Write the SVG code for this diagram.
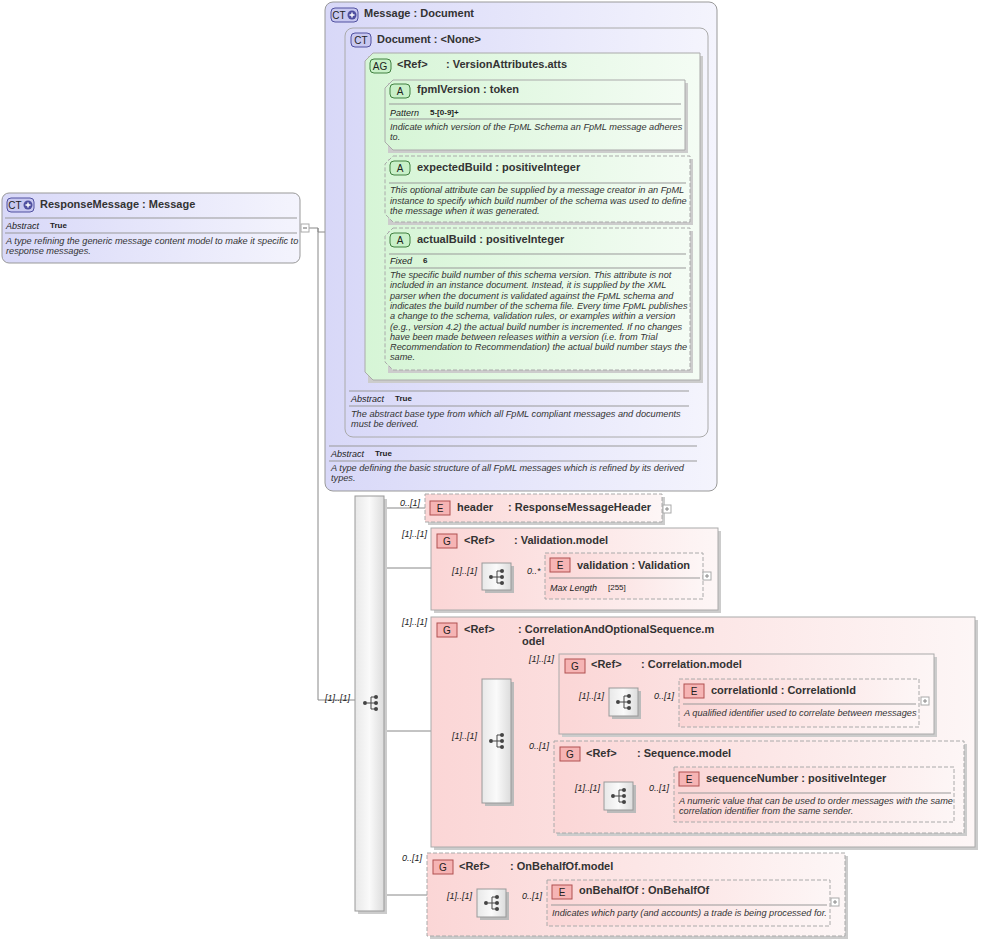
<svg xmlns="http://www.w3.org/2000/svg" width="981" height="943" viewBox="0 0 981 943">
<defs>
<linearGradient id="gb" x1="0" y1="0" x2="1" y2="0"><stop offset="0" stop-color="#d8d8f8"/><stop offset="1" stop-color="#f4f4fd"/></linearGradient>
<linearGradient id="gg" x1="0" y1="0" x2="1" y2="0"><stop offset="0" stop-color="#d6f5d6"/><stop offset="1" stop-color="#f4fcf4"/></linearGradient>
<linearGradient id="gp" x1="0" y1="0" x2="1" y2="0"><stop offset="0" stop-color="#fbd6d6"/><stop offset="1" stop-color="#fdf6f6"/></linearGradient>
<linearGradient id="gs" x1="0" y1="0" x2="1" y2="0"><stop offset="0" stop-color="#e8e8e8"/><stop offset="0.5" stop-color="#fafafa"/><stop offset="1" stop-color="#dcdcdc"/></linearGradient>
<g id="tree"><circle cx="-6" cy="0" r="2" fill="#444"/><path d="M-4 0H0M0 -6V6M0 -6H4M0 0H4M0 6H4" stroke="#444" fill="none"/><circle cx="5" cy="-6" r="2" fill="#444"/><circle cx="5" cy="0" r="2" fill="#444"/><circle cx="5" cy="6" r="2" fill="#444"/></g>
<g id="ctplus"><circle cx="0" cy="0" r="4.5" fill="#5050a0"/><path d="M-2.5 0H2.5M0 -2.5V2.5" stroke="#fff" stroke-width="1.4"/></g>
</defs>
<style>
text{font-family:"Liberation Sans",Arial,sans-serif;fill:#222}
.t{font-size:11px;font-weight:bold;fill:#333}
.d{font-size:9.2px;font-style:italic;fill:#333}
.k{font-size:9px;font-style:italic;fill:#222}
.v{font-size:8px;font-weight:bold}
.m{font-size:9px;font-style:italic}
.sep{stroke:#999;stroke-width:1}
.c{stroke:#888;fill:none}
.solid{stroke:#aaa}
.dash{stroke:#aaa;stroke-dasharray:4 2}
.bE{fill:#f6b4b4;stroke:#b05050}
.bA{fill:#c8f0c8;stroke:#408040}
.bC{fill:#c8c8f0;stroke:#5050a0}
.bt{font-size:10px;text-anchor:middle}
.pl{fill:#fff;stroke:#aaa}
</style>

<g id="connectors">
<path class="c" d="M309 228H318V232H325M318 228V700H355"/>
<path class="c" d="M376 118V300M376 117H385M376 188H385M376 300H385M355 232H365"/>
<path class="c" d="M384 508H425M384 568H431M431 576H482M511 576H545"/>
<path class="c" d="M384 731H431M431 741H482M511 694H559M559 704H609M638 704H679M511 788H554M554 796H604M633 796H674"/>
<path class="c" d="M384 895H427M427 903H477M506 903H547"/>
</g>

<g id="ResponseMessage">
<rect x="2" y="193" width="298" height="70" rx="7" fill="url(#gb)" stroke="#999"/>
<rect x="7" y="198" width="27" height="14" rx="4" class="bC"/><text x="15" y="209" class="bt">CT</text><use href="#ctplus" x="28" y="205"/>
<text x="40" y="208" class="t">ResponseMessage : Message</text>
<line x1="5" y1="218" x2="297" y2="218" class="sep"/>
<text x="6" y="229" class="k">Abstract</text><text x="50" y="228" class="v">True</text>
<line x1="5" y1="233" x2="297" y2="233" class="sep"/>
<text x="6" y="244" class="d">A type refining the generic message content model to make it specific to</text>
<text x="6" y="254" class="d">response messages.</text>
<rect x="301" y="224" width="8" height="8" class="pl"/><path d="M303 228H307" stroke="#666"/>
</g>

<g id="Message">
<rect x="325" y="2" width="392" height="489" rx="8" fill="url(#gb)" stroke="#999"/>
<rect x="331" y="8" width="27" height="14" rx="4" class="bC"/><text x="339" y="19" class="bt">CT</text><use href="#ctplus" x="352" y="15"/>
<text x="364" y="17" class="t">Message : Document</text>
<line x1="329" y1="446" x2="697" y2="446" class="sep"/>
<text x="331" y="457" class="k">Abstract</text><text x="375" y="456" class="v">True</text>
<line x1="329" y1="461" x2="697" y2="461" class="sep"/>
<text x="331" y="471" class="d">A type defining the basic structure of all FpML messages which is refined by its derived</text>
<text x="331" y="481" class="d">types.</text>
</g>

<g id="Document">
<rect x="345" y="28" width="363" height="409" rx="8" fill="url(#gb)" stroke="#aaa"/>
<rect x="351" y="33" width="20" height="14" rx="4" class="bC"/><text x="361" y="44" class="bt">CT</text>
<text x="377" y="43" class="t">Document : &lt;None&gt;</text>
<line x1="349" y1="391" x2="689" y2="391" class="sep"/>
<text x="351" y="402" class="k">Abstract</text><text x="395" y="401" class="v">True</text>
<line x1="349" y1="406" x2="689" y2="406" class="sep"/>
<text x="351" y="417" class="d">The abstract base type from which all FpML compliant messages and documents</text>
<text x="351" y="427" class="d">must be derived.</text>
</g>

<g id="VersionAttributes">
<rect x="368" y="56" width="335" height="327" fill="#ccc"/>
<path d="M373 53H700V380H373L365 372V61Z" fill="url(#gg)" stroke="#aaa"/>
<rect x="370" y="59" width="21" height="14" rx="4" class="bA"/><text x="380" y="70" class="bt">AG</text>
<text x="397" y="68" class="t">&lt;Ref&gt;</text><text x="446" y="68" class="t">: VersionAttributes.atts</text>
</g>

<g id="fpmlVersion">
<rect x="388" y="83" width="300" height="70" fill="#ccc"/>
<path d="M393 80H685V150H393L385 142V88Z" fill="url(#gg)" stroke="#aaa"/>
<rect x="390" y="84" width="20" height="14" rx="4" class="bA"/><text x="400" y="95" class="bt">A</text>
<text x="417" y="93" class="t">fpmlVersion : token</text>
<line x1="389" y1="104" x2="681" y2="104" class="sep"/>
<text x="390" y="116" class="k">Pattern</text><text x="430" y="115" class="v">5-[0-9]+</text>
<line x1="389" y1="119" x2="681" y2="119" class="sep"/>
<text x="390" y="130" class="d">Indicate which version of the FpML Schema an FpML message adheres</text>
<text x="390" y="140" class="d">to.</text>
</g>

<g id="expectedBuild">
<rect x="388" y="159" width="305" height="66" fill="#ccc"/>
<path d="M393 156H690V222H393L385 214V164Z" fill="url(#gg)" class="dash"/>
<rect x="390" y="161" width="20" height="14" rx="4" class="bA"/><text x="400" y="172" class="bt">A</text>
<text x="417" y="171" class="t">expectedBuild : positiveInteger</text>
<line x1="389" y1="183" x2="686" y2="183" class="sep"/>
<text x="390" y="193" class="d">This optional attribute can be supplied by a message creator in an FpML</text>
<text x="390" y="204" class="d">instance to specify which build number of the schema was used to define</text>
<text x="390" y="214" class="d">the message when it was generated.</text>
</g>

<g id="actualBuild">
<rect x="388" y="231" width="305" height="142" fill="#ccc"/>
<path d="M393 228H690V370H393L385 362V236Z" fill="url(#gg)" class="dash"/>
<rect x="390" y="233" width="20" height="14" rx="4" class="bA"/><text x="400" y="244" class="bt">A</text>
<text x="417" y="243" class="t">actualBuild : positiveInteger</text>
<line x1="389" y1="254" x2="686" y2="254" class="sep"/>
<text x="390" y="264" class="k">Fixed</text><text x="423" y="263" class="v">6</text>
<line x1="389" y1="268" x2="686" y2="268" class="sep"/>
<text class="d"><tspan x="390" y="278">The specific build number of this schema version. This attribute is not</tspan><tspan x="390" y="288">included in an instance document. Instead, it is supplied by the XML</tspan><tspan x="390" y="299">parser when the document is validated against the FpML schema and</tspan><tspan x="390" y="309">indicates the build number of the schema file. Every time FpML publishes</tspan><tspan x="390" y="319">a change to the schema, validation rules, or examples within a version</tspan><tspan x="390" y="330">(e.g., version 4.2) the actual build number is incremented. If no changes</tspan><tspan x="390" y="340">have been made between releases within a version (i.e. from Trial</tspan><tspan x="390" y="350">Recommendation to Recommendation) the actual build number stays the</tspan><tspan x="390" y="360">same.</tspan></text>
</g>

<g id="sequence">
<rect x="358" y="499" width="29" height="415" fill="#ccc"/>
<rect x="355" y="496" width="29" height="415" fill="url(#gs)" stroke="#999"/>
<use href="#tree" x="371" y="703"/>
<text x="325" y="701" class="m">[1]..[1]</text>
</g>

<g id="header">
<rect x="428" y="497" width="237" height="28" fill="#ccc"/>
<rect x="425" y="494" width="237" height="28" fill="url(#gp)" class="dash"/>
<rect x="430" y="501" width="20" height="14" class="bE"/><text x="440" y="512" class="bt">E</text>
<text x="457" y="511" class="t">header</text><text x="508" y="511" class="t">: ResponseMessageHeader</text>
<text x="400" y="506" class="m">0..[1]</text>
<rect x="663" y="505" width="8" height="8" class="pl"/><path d="M665 509H669M667 507V511" stroke="#888"/>
</g>

<g id="Validation.model">
<rect x="434" y="531" width="287" height="82" fill="#ccc"/>
<rect x="431" y="528" width="287" height="82" fill="url(#gp)" class="solid"/>
<rect x="437" y="534" width="20" height="14" class="bE"/><text x="447" y="545" class="bt">G</text>
<text x="464" y="544" class="t">&lt;Ref&gt;</text><text x="514" y="544" class="t">: Validation.model</text>
<text x="402" y="537" class="m">[1]..[1]</text>
<rect x="485" y="566" width="29" height="27" fill="#bbb"/>
<rect x="482" y="563" width="29" height="27" fill="url(#gs)" stroke="#999"/><use href="#tree" x="497" y="577"/>
<text x="452" y="574" class="m">[1]..[1]</text><text x="527" y="574" class="m">0..*</text>
<rect x="545" y="553" width="158" height="46" fill="url(#gp)" class="dash"/>
<rect x="550" y="558" width="20" height="14" class="bE"/><text x="560" y="569" class="bt">E</text>
<text x="577" y="569" class="t">validation : Validation</text>
<line x1="549" y1="578" x2="700" y2="578" class="sep"/>
<text x="550" y="591" class="k">Max Length</text><text x="608" y="590" font-size="8" fill="#777">[255]</text>
<rect x="703" y="572" width="8" height="8" class="pl"/><path d="M705 576H709M707 574V578" stroke="#888"/>
</g>

<g id="CorrelationAndOptionalSequence.model">
<rect x="434" y="620" width="544" height="230" fill="#ccc"/>
<rect x="431" y="617" width="544" height="230" fill="url(#gp)" class="solid"/>
<rect x="437" y="623" width="20" height="14" class="bE"/><text x="447" y="634" class="bt">G</text>
<text x="464" y="633" class="t">&lt;Ref&gt;</text><text x="518" y="633" class="t">: CorrelationAndOptionalSequence.m</text>
<text x="522" y="645" class="t">odel</text>
<text x="402" y="625" class="m">[1]..[1]</text>
<rect x="485" y="682" width="29" height="124" fill="#bbb"/>
<rect x="482" y="679" width="29" height="124" fill="url(#gs)" stroke="#999"/><use href="#tree" x="497" y="741"/>
<text x="452" y="739" class="m">[1]..[1]</text>
</g>

<g id="Correlation.model">
<rect x="562" y="657" width="375" height="80" fill="#ccc"/>
<rect x="559" y="654" width="375" height="80" fill="url(#gp)" class="solid"/>
<rect x="565" y="659" width="20" height="14" class="bE"/><text x="575" y="670" class="bt">G</text>
<text x="591" y="668" class="t">&lt;Ref&gt;</text><text x="641" y="668" class="t">: Correlation.model</text>
<text x="529" y="662" class="m">[1]..[1]</text>
<rect x="612" y="691" width="29" height="28" fill="#bbb"/>
<rect x="609" y="688" width="29" height="28" fill="url(#gs)" stroke="#999"/><use href="#tree" x="624" y="702"/>
<text x="579" y="699" class="m">[1]..[1]</text><text x="654" y="699" class="m">0..[1]</text>
<rect x="679" y="679" width="240" height="48" fill="url(#gp)" class="dash"/>
<rect x="684" y="684" width="20" height="14" class="bE"/><text x="694" y="695" class="bt">E</text>
<text x="711" y="694" class="t">correlationId : CorrelationId</text>
<line x1="683" y1="704" x2="916" y2="704" class="sep"/>
<text x="684" y="716" class="d">A qualified identifier used to correlate between messages</text>
<rect x="921" y="697" width="8" height="8" class="pl"/><path d="M923 701H927M925 699V703" stroke="#888"/>
</g>

<g id="Sequence.model">
<rect x="557" y="744" width="410" height="92" fill="#ccc"/>
<rect x="554" y="741" width="410" height="92" fill="url(#gp)" class="dash"/>
<rect x="560" y="747" width="20" height="14" class="bE"/><text x="570" y="758" class="bt">G</text>
<text x="586" y="757" class="t">&lt;Ref&gt;</text><text x="637" y="757" class="t">: Sequence.model</text>
<text x="529" y="749" class="m">0..[1]</text>
<rect x="607" y="785" width="29" height="28" fill="#bbb"/>
<rect x="604" y="782" width="29" height="28" fill="url(#gs)" stroke="#999"/><use href="#tree" x="619" y="796"/>
<text x="575" y="791" class="m">[1]..[1]</text><text x="649" y="791" class="m">0..[1]</text>
<rect x="674" y="767" width="280" height="55" fill="url(#gp)" class="dash"/>
<rect x="679" y="772" width="20" height="14" class="bE"/><text x="689" y="783" class="bt">E</text>
<text x="706" y="782" class="t">sequenceNumber : positiveInteger</text>
<line x1="678" y1="793" x2="951" y2="793" class="sep"/>
<text x="679" y="804" class="d">A numeric value that can be used to order messages with the same</text>
<text x="679" y="814" class="d">correlation identifier from the same sender.</text>
</g>

<g id="OnBehalfOf.model">
<rect x="430" y="856" width="418" height="83" fill="#ccc"/>
<rect x="427" y="853" width="418" height="83" fill="url(#gp)" class="dash"/>
<rect x="433" y="860" width="20" height="14" class="bE"/><text x="443" y="871" class="bt">G</text>
<text x="459" y="870" class="t">&lt;Ref&gt;</text><text x="510" y="870" class="t">: OnBehalfOf.model</text>
<text x="402" y="861" class="m">0..[1]</text>
<rect x="480" y="892" width="29" height="28" fill="#bbb"/>
<rect x="477" y="889" width="29" height="28" fill="url(#gs)" stroke="#999"/><use href="#tree" x="492" y="903"/>
<text x="447" y="899" class="m">[1]..[1]</text><text x="522" y="899" class="m">0..[1]</text>
<rect x="547" y="880" width="283" height="46" fill="url(#gp)" class="dash"/>
<rect x="552" y="885" width="20" height="14" class="bE"/><text x="562" y="896" class="bt">E</text>
<text x="579" y="894" class="t">onBehalfOf : OnBehalfOf</text>
<line x1="551" y1="905" x2="827" y2="905" class="sep"/>
<text x="552" y="916" class="d">Indicates which party (and accounts) a trade is being processed for.</text>
<rect x="831" y="898" width="8" height="8" class="pl"/><path d="M833 902H837M835 900V904" stroke="#888"/>
</g>
</svg>
